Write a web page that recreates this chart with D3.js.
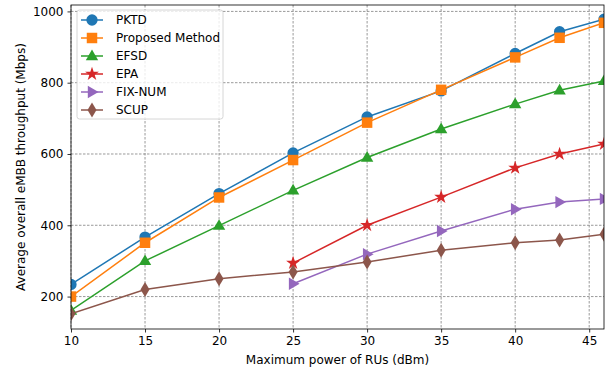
<!DOCTYPE html>
<html>
<head>
<meta charset="utf-8">
<script src="https://cdn.jsdelivr.net/npm/d3@7"></script>
<style>
  body { margin: 0; background: #fff; }
  text { font-family: "DejaVu Sans", sans-serif; }
</style>
</head>
<body>
<div id="chart"></div>
<script>
// x values (dBm)
const power = [10, 15, 20, 25, 30, 35, 40, 43, 46];
const powerLate = [25, 30, 35, 40, 43, 46];

const pktd = [234, 367, 489, 603, 704, 777, 882, 943, 978];
const proposed = [200, 351, 478, 583, 688, 780, 871, 926, 968];
const efsd = [161, 300, 399, 498, 590, 670, 740, 779, 805];
const epa = [294, 400, 479, 561, 600, 628];
const fixNum = [236, 319, 384, 445, 465, 474];
const scup = [152, 220, 250, 269, 297, 330, 351, 359, 375];

const xTicks = [10, 15, 20, 25, 30, 35, 40, 45];
const yTicks = [200, 400, 600, 800, 1000];

const series = [
  { name: "PKTD", x: power, y: pktd, color: "#1f77b4", marker: "circle" },
  { name: "Proposed Method", x: power, y: proposed, color: "#ff7f0e", marker: "square" },
  { name: "EFSD", x: power, y: efsd, color: "#2ca02c", marker: "triangle" },
  { name: "EPA", x: powerLate, y: epa, color: "#d62728", marker: "star" },
  { name: "FIX-NUM", x: powerLate, y: fixNum, color: "#9467bd", marker: "right" },
  { name: "SCUP", x: power, y: scup, color: "#8c564b", marker: "thin_diamond" }
];

const width = 613, height = 373;
const plot = { left: 71, right: 604, top: 5, bottom: 329 };
const fs = 12;

const x = d3.scaleLinear().domain([10, 46]).range([plot.left, plot.right]);
const y = d3.scaleLinear().domain([109, 1018]).range([plot.bottom, plot.top]);

const svg = d3.select("#chart").append("svg")
  .attr("width", width)
  .attr("height", height);

svg.append("defs").append("clipPath").attr("id", "clip")
  .append("rect")
  .attr("x", plot.left).attr("y", plot.top)
  .attr("width", plot.right - plot.left).attr("height", plot.bottom - plot.top);

// grid
svg.append("g").selectAll("line").data(xTicks).enter().append("line")
  .attr("x1", d => x(d)).attr("x2", d => x(d))
  .attr("y1", plot.top).attr("y2", plot.bottom)
  .attr("stroke", "#808080").attr("stroke-width", 0.8).attr("stroke-dasharray", "2.5,1.5");
svg.append("g").selectAll("line").data(yTicks).enter().append("line")
  .attr("x1", plot.left).attr("x2", plot.right)
  .attr("y1", d => y(d)).attr("y2", d => y(d))
  .attr("stroke", "#808080").attr("stroke-width", 0.8).attr("stroke-dasharray", "2.5,1.5");

// marker shapes
function markerPath(kind) {
  switch (kind) {
    case "circle": return d3.symbol(d3.symbolCircle, 100)();
    case "square": return d3.symbol(d3.symbolSquare, 110)();
    case "triangle": return "M0,-6.5L6.2,4.2L-6.2,4.2Z";
    case "star": return d3.symbol(d3.symbolStar, 60)();
    case "right": return "M6.5,0L-4.2,6.2L-4.2,-6.2Z";
    case "thin_diamond": return "M0,-7.5L4.5,0L0,7.5L-4.5,0Z";
  }
}

const line = d3.line().x(d => x(d[0])).y(d => y(d[1]));
const plotG = svg.append("g").attr("clip-path", "url(#clip)");

series.forEach(s => {
  const pts = s.x.map((v, i) => [v, s.y[i]]);
  const g = plotG.append("g");
  g.append("path")
    .datum(pts)
    .attr("d", line)
    .attr("fill", "none")
    .attr("stroke", s.color)
    .attr("stroke-width", 1.5);
  g.selectAll("path.m").data(pts).enter().append("path")
    .attr("class", "m")
    .attr("d", markerPath(s.marker))
    .attr("transform", d => `translate(${x(d[0])},${y(d[1])})`)
    .attr("fill", s.color);
});

// axes
const xAxis = svg.append("g")
  .attr("transform", `translate(0,${plot.bottom})`)
  .call(d3.axisBottom(x).tickValues(xTicks).tickFormat(d3.format("d")).tickSize(3.5).tickPadding(4));
const yAxis = svg.append("g")
  .attr("transform", `translate(${plot.left},0)`)
  .call(d3.axisLeft(y).tickValues(yTicks).tickFormat(d3.format("d")).tickSize(3.5).tickPadding(4));
[xAxis, yAxis].forEach(a => {
  a.select(".domain").remove();
  a.selectAll("text").attr("font-family", "DejaVu Sans").attr("font-size", fs).attr("fill", "#000");
  a.selectAll("line").attr("stroke", "#000").attr("stroke-width", 0.8);
});

// frame
svg.append("rect")
  .attr("x", plot.left).attr("y", plot.top)
  .attr("width", plot.right - plot.left).attr("height", plot.bottom - plot.top)
  .attr("fill", "none").attr("stroke", "#000").attr("stroke-width", 0.8);

// labels
svg.append("text")
  .attr("x", (plot.left + plot.right) / 2).attr("y", 364)
  .attr("text-anchor", "middle").attr("font-size", fs)
  .text("Maximum power of RUs (dBm)");
svg.append("text")
  .attr("transform", `translate(25,${(plot.top + plot.bottom) / 2}) rotate(-90)`)
  .attr("text-anchor", "middle").attr("font-size", fs)
  .text("Average overall eMBB throughput (Mbps)");

// legend
const legend = svg.append("g").attr("transform", "translate(77,10)");
legend.append("rect")
  .attr("width", 146).attr("height", 109).attr("rx", 2.5)
  .attr("fill", "#fff").attr("fill-opacity", 0.8)
  .attr("stroke", "#ccc").attr("stroke-width", 0.8);
series.forEach((s, i) => {
  const row = legend.append("g").attr("transform", `translate(0,${10 + i * 18})`);
  row.append("line").attr("x1", 4).attr("x2", 26)
    .attr("stroke", s.color).attr("stroke-width", 1.5);
  row.append("path").attr("d", markerPath(s.marker))
    .attr("transform", "translate(15,0)").attr("fill", s.color);
  row.append("text").attr("x", 39).attr("y", 4)
    .attr("font-size", fs).text(s.name);
});
</script>
</body>
</html>
